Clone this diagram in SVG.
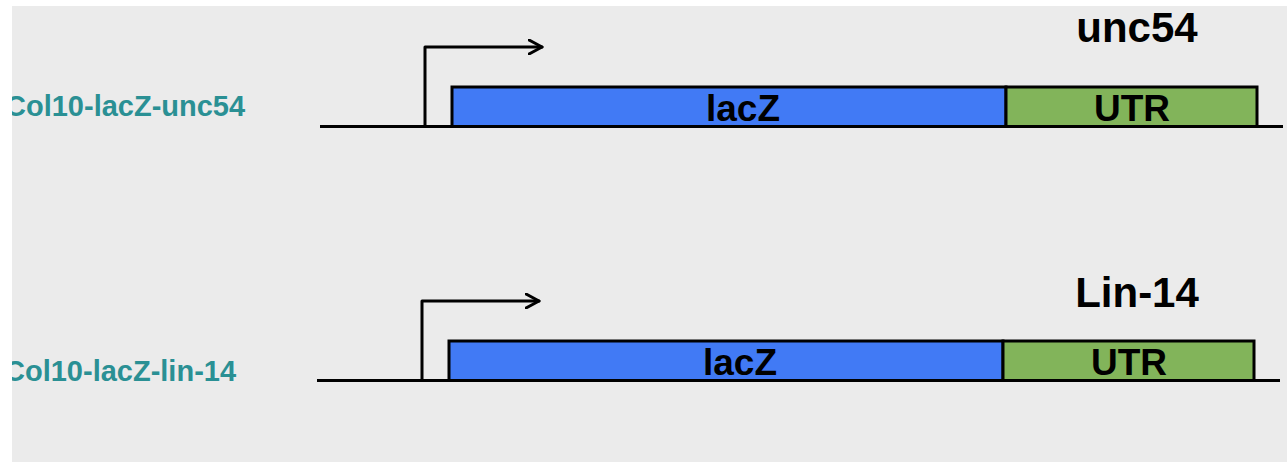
<svg xmlns="http://www.w3.org/2000/svg" width="1287" height="463" viewBox="0 0 1287 463">
  <style>
    .bg { fill: #ebebeb; }
    .dna { stroke: #000; stroke-width: 3; fill: none; }
    .lacz { fill: #417af5; stroke: #000; stroke-width: 3; }
    .utr { fill: #82b45a; stroke: #000; stroke-width: 3; }
    .prom { stroke: #000; stroke-width: 3; fill: none; stroke-linejoin: round; stroke-linecap: round; }
    .boxlabel { font-family: "Liberation Sans", Arial, sans-serif; font-weight: bold; font-size: 37px; fill: #000; text-anchor: middle; }
    .title { font-family: "Liberation Sans", Arial, sans-serif; font-weight: bold; font-size: 42px; fill: #000; text-anchor: middle; }
    .name { font-family: "Liberation Sans", Arial, sans-serif; font-weight: bold; font-size: 29px; fill: #2a9094; }
  </style>
  <defs>
    <clipPath id="panel">
      <rect x="12" y="6" width="1275" height="456"/>
    </clipPath>
    <marker id="chevron" viewBox="0 0 16 16" refX="14" refY="8" markerWidth="16" markerHeight="16" markerUnits="userSpaceOnUse" orient="auto">
      <path d="M1,1 L14,8 L1,15" fill="none" stroke="#000" stroke-width="3" stroke-linejoin="round" stroke-linecap="round"/>
    </marker>
  </defs>

  <rect x="0" y="0" width="1287" height="463" fill="#ffffff"/>
  <rect class="bg" x="12" y="6" width="1275" height="456"/>

  <!-- construct 1: Col10-lacZ-unc54 -->
  <g id="construct-unc54">
    <text class="name" x="5" y="116" clip-path="url(#panel)">Col10-lacZ-unc54</text>
    <line class="dna" x1="320" y1="126.5" x2="1283" y2="126.5"/>
    <g id="lacz-1">
      <rect class="lacz" x="452" y="87" width="554" height="39.5"/>
      <text class="boxlabel" x="743" y="121">lacZ</text>
    </g>
    <g id="utr-1">
      <rect class="utr" x="1006" y="87" width="251" height="39.5"/>
      <text class="boxlabel" x="1132" y="121">UTR</text>
    </g>
    <text class="title" x="1137" y="42">unc54</text>
  </g>

  <!-- construct 2: Col10-lacZ-lin-14 -->
  <g id="construct-lin14">
    <text class="name" x="4" y="381" clip-path="url(#panel)">Col10-lacZ-lin-14</text>
    <line class="dna" x1="317" y1="380.5" x2="1280" y2="380.5"/>
    <g id="lacz-2">
      <rect class="lacz" x="449" y="341" width="554" height="39.5"/>
      <text class="boxlabel" x="740" y="375">lacZ</text>
    </g>
    <g id="utr-2">
      <rect class="utr" x="1003" y="341" width="251" height="39.5"/>
      <text class="boxlabel" x="1129" y="375">UTR</text>
    </g>
    <text class="title" x="1137" y="307">Lin-14</text>
  </g>

  <!-- promoter arrows -->
  <g id="connectors">
    <path class="prom" d="M425,126 L425,47 L542,47" marker-end="url(#chevron)"/>
    <path class="prom" d="M422,380 L422,301 L539,301" marker-end="url(#chevron)"/>
  </g>
</svg>
